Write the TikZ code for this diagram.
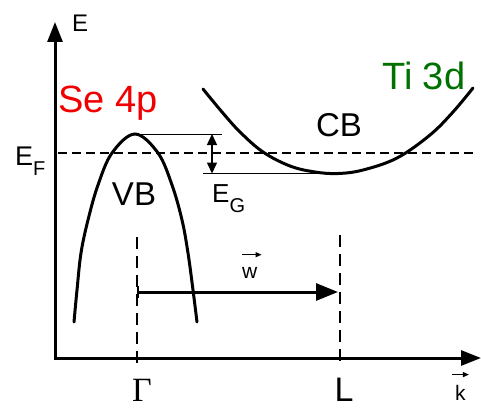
\documentclass[tikz,border=0pt]{standalone}
\usepackage{fontspec}
\setmainfont{Liberation Sans}
\newfontfamily\gammafont{Liberation Serif}
\usetikzlibrary{arrows.meta}
\definecolor{sered}{RGB}{240,0,0}
\definecolor{tigreen}{RGB}{0,112,0}
\begin{document}
\begin{tikzpicture}[x=1pt,y=-1pt,
  axis/.style={line width=3pt,{Triangle[length=20pt,width=15pt]}-{Triangle[length=20pt,width=15pt]}},
  band/.style={line width=3pt,line cap=round},
  thinline/.style={line width=1pt},
  fermi/.style={line width=1.5pt,dash pattern=on 9pt off 5pt},
  kline/.style={line width=1.5pt,dash pattern=on 12pt off 7pt},
  lbl/.style={inner sep=0pt,anchor=base west},
  clbl/.style={inner sep=0pt,anchor=base},
  bigfont/.style={font=\fontsize{38}{38}\selectfont},
  bandfont/.style={font=\fontsize{33}{33}\selectfont},
  vecarrow/.style={line width=1.2pt,-{Triangle[length=6pt,width=5pt]}},
]
\useasboundingbox (0,0) rectangle (481,409);
% axes
\coordinate (O) at (55,358);
\coordinate (Etip) at (55,22);
\coordinate (Ktip) at (481,358);
\draw[axis] (Etip) -- (O) -- (Ktip);
% Fermi level
\coordinate (F1) at (58,153);
\coordinate (F2) at (473,153);
\draw[fermi] (F1) -- (F2);
% vertical k lines
\coordinate (G1) at (137,237);
\coordinate (G2) at (137,365);
\coordinate (L1) at (340,235);
\coordinate (L2) at (340,365);
\draw[kline] (G1) -- (G2);
\draw[kline] (L1) -- (L2);
% valence band
\coordinate (vbtop) at (135,134);
\draw[band] plot[smooth,tension=0.6] coordinates {(74,322) (77,290) (81,253) (88,220) (98,185) (112,153) (135,134) (158,153) (172,185) (182,220) (188,253) (193,290) (197,322)};
% conduction band
\coordinate (cbmin) at (338,173.5);
\draw[band] plot[smooth,tension=0.6] coordinates {(203,89) (222,112) (240,132) (263,152) (290,166) (315,172) (338,173.5) (363,170) (397,158) (430,135) (453,112) (473,88)};
% gap markers
\coordinate (gtopend) at (222,134);
\coordinate (gbotstart) at (203,173.5);
\draw[thinline] (vbtop) -- (gtopend);
\draw[thinline] (gbotstart) -- (cbmin);
\coordinate (ga) at (212,134);
\coordinate (gb) at (212,173.5);
\draw[line width=1.5pt,{Triangle[length=11pt,width=10pt]}-{Triangle[length=11pt,width=10pt]}] (ga) -- (gb);
% w arrow
\coordinate (ws) at (137,292);
\coordinate (we) at (338,292);
\draw[line width=3pt,{Bar[width=12pt,line width=1.5pt]}-{Triangle[length=22pt,width=17pt]}] (ws) -- (we);
% labels
\node[lbl,font=\fontsize{24}{24}\selectfont] (E) at (72,32) {E};
\node[lbl,font=\fontsize{27}{27}\selectfont] (EF) at (15,165) {E\raisebox{-10pt}{\fontsize{20}{20}\selectfont F}};
\node[lbl,font=\fontsize{26}{26}\selectfont] (EG) at (212,202) {E\raisebox{-10pt}{\fontsize{20}{20}\selectfont G}};
\node[clbl,bandfont] (VB) at (134,205) {VB};
\node[clbl,bandfont] (CB) at (339,136) {CB};
\node[lbl,bigfont,text=sered] (Se) at (58,112) {Se 4p};
\node[lbl,bigfont,text=tigreen] (Ti) at (382,90) {Ti 3d};
\node[clbl,font=\fontsize{34}{34}\selectfont\gammafont] (Gamma) at (142,401) {Γ};
\node[clbl,font=\fontsize{34}{34}\selectfont] (L) at (344,401) {L};
\node[lbl,font=\fontsize{21}{21}\selectfont] (w) at (242,278) {w};
\draw[vecarrow] ([yshift=12pt]w.north west) -- ([xshift=4pt,yshift=12pt]w.north east);
\node[lbl,font=\fontsize{21}{21}\selectfont] (k) at (455,400) {k};
\draw[vecarrow] ([xshift=-3pt,yshift=10pt]k.north west) -- ([xshift=3pt,yshift=10pt]k.north east);
\end{tikzpicture}
\end{document}
